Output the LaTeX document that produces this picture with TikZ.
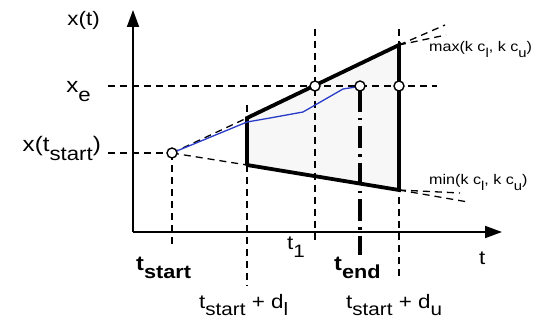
\documentclass[tikz,border=0pt]{standalone}
\usepackage{fontspec}
\setmainfont[FakeStretch=1.15]{Liberation Sans}
\usetikzlibrary{arrows.meta}
\newcommand{\lsub}[2][0.45ex]{\raisebox{-#1}{\scalebox{0.92}{#2}}}
\begin{document}
\begin{tikzpicture}[x=1pt,y=-1pt,
  dsh/.style={line width=1.3pt,dash pattern=on 7pt off 5pt},
  thk/.style={line width=3.8pt,line cap=round},
  axis/.style={line width=1.8pt},
  dot/.style={circle,draw,fill=white,line width=1.4pt,minimum size=10pt,inner sep=0pt},
  lab/.style={inner sep=0pt,font=\fontsize{19.5}{21}\selectfont},
  llab/.style={inner sep=0pt,font=\fontsize{21}{23}\selectfont},
  blab/.style={inner sep=0pt,font=\fontsize{20.5}{22}\selectfont\bfseries},
  smlab/.style={inner sep=0pt,font=\fontsize{14}{16}\selectfont},
  curve/.style={line width=1.3pt,draw={rgb,255:red,40;green,60;blue,200}}]
\useasboundingbox (0,0) rectangle (544,326);
% coordinates
\coordinate (O) at (133,232);
\coordinate (ytip) at (133,10);
\coordinate (xtip) at (502,232);
\coordinate (xeL) at (108,86);
\coordinate (xeR) at (437,86);
\coordinate (xsL) at (108,153);
\coordinate (tsB) at (172,246);
\coordinate (A) at (247,118);
\coordinate (B) at (399,45);
\coordinate (C) at (399,190);
\coordinate (D) at (247,165);
\coordinate (dlT) at (247,105);
\coordinate (dlB) at (247,286);
\coordinate (t1T) at (315,29);
\coordinate (t1B) at (315,243);
\coordinate (duT) at (399,29);
\coordinate (duB) at (399,278);
\coordinate (teB) at (360,255);
\coordinate (u1) at (445,25);
\coordinate (u2) at (446,35);
\coordinate (l1) at (468,202);
\coordinate (l2) at (460,193);
% fill
\fill[gray!6] (A) -- (B) -- (C) -- (D) -- cycle;
% axes
\draw[axis,-{Triangle[length=17pt,width=12pt]}] (O) -- (ytip);
\draw[axis,-{Triangle[length=17pt,width=12pt]}] (O) -- (xtip);
% dashed guides
\draw[dsh] (xeL) -- (xeR);
\draw[dsh] (xsL) -- (172,153);
\draw[dsh] (172,153) -- (tsB);
\draw[dsh] (172,153) -- (A);
\draw[dsh] (172,153) -- (D);
\draw[dsh] (dlT) -- (dlB);
\draw[dsh] (t1T) -- (t1B);
\draw[dsh] (duT) -- (duB);
\draw[dsh] (B) -- (u1);
\draw[dsh] (B) -- (u2);
\draw[dsh] (C) -- (l1);
\draw[dsh] (C) -- (l2);
% bounds
\draw[thk] (D) -- (A) -- (B) -- (C) -- (D);
% blue trajectory
\draw[curve] (172,153) -- (247,122) -- (270,118) -- (303,112) -- (343,89) -- (356,87) -- (360,86);
% t_end
\draw[line width=3.8pt,dash pattern=on 22pt off 6pt on 2.5pt off 6pt] (360,90) -- (teB);
% circles
\node[dot] (s) at (172,153) {};
\node[dot] (c1) at (315,86) {};
\node[dot] (c2) at (360,86) {};
\node[dot] (c3) at (399,86) {};
% labels
\node[lab,anchor=base east] (lxt) at (100,26) {x(t)};
\node[llab,anchor=base east] (lxe) at (91,93) {x\lsub[0.4em]{e}};
\node[llab,anchor=base east] (lxs) at (101,152) {x(t\lsub[0.4em]{start})};
\node[blab,anchor=base west] (lts) at (136,270) {t\lsub[0.42em]{start}};
\node[lab,anchor=base west] (ltdl) at (199,308) {t\lsub[0.4em]{start} + d\lsub[0.4em]{l}};
\node[lab,anchor=base west] (lt1) at (287,250) {t\lsub[0.4em]{1}};
\node[blab,anchor=base west] (lte) at (334,270) {t\lsub[0.42em]{end}};
\node[lab,anchor=base west] (ltdu) at (346,308) {t\lsub[0.4em]{start} + d\lsub[0.4em]{u}};
\node[lab,anchor=base west] (lt) at (479,265) {t};
\node[smlab,anchor=base west] (lmax) at (429,52) {max(k c\lsub[0.4em]{l}, k c\lsub[0.4em]{u})};
\node[smlab,anchor=base west] (lmin) at (429,185) {min(k c\lsub[0.4em]{l}, k c\lsub[0.4em]{u})};
\end{tikzpicture}
\end{document}
